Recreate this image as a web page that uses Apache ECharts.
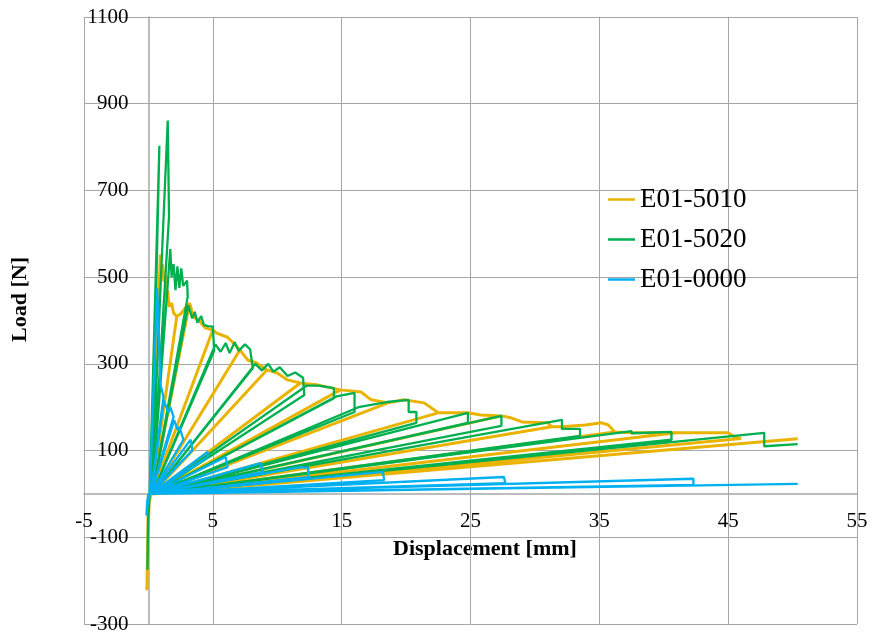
<!DOCTYPE html>
<html><head><meta charset="utf-8">
<script src="https://cdn.jsdelivr.net/npm/echarts@6/dist/echarts.min.js"></script>
<style>html,body{margin:0;padding:0;background:#fff}#c{width:871px;height:634px}</style>
</head><body><div id="c"></div>
<script>
// Series names and colours
const seriesNames = ['E01-5010', 'E01-5020', 'E01-0000'];
const seriesColors = ['#EAB300', '#00B050', '#00B0F0'];

// Axis ranges (ticks: -5,5,...,55 and -300,-100,...,1100)
const xRange = [-5, 55, 10];
const yRange = [-300, 1100, 200];

// E01-5010 : [displacement mm, load N]
const e015010 = [
  [0,0],[-0.03,-60],[-0.08,-160],[-0.12,-222],[-0.05,-120],[0.05,-20],[0.2,0],
  [0.93,552],[1.0,505],[1.1,530],[1.2,490],[1.3,505],[1.35,455],[1.5,470],[1.6,432],[1.8,440],[1.95,418],[2.2,409],[0.25,0],
  [2.2,409],[2.5,415],[2.9,430],[3.2,440],[0.25,0],
  [3.2,440],[3.5,408],[3.9,401],[4.4,383],[5.0,378],[0.25,0],
  [5.0,378],[5.3,371],[6.1,362],[6.5,351],[7.1,332],[0.25,0],
  [7.1,332],[7.7,309],[8.4,302],[9.2,286],[0.3,0],
  [9.2,286],[10.0,279],[10.8,263],[11.8,256],[0.3,0],
  [11.8,256],[13.2,251],[14.9,240],[0.3,0],
  [14.9,240],[16.5,235],[17.3,217],[18.6,210],[0.3,0],
  [18.6,210],[19.8,217],[21.4,210],[22.5,187],[0.3,0],
  [22.5,187],[24.8,187],[25.8,182],[27.4,180],[0.3,0],
  [27.4,180],[28.2,175],[29.0,166],[31.0,164],[31.3,155],[0.3,0],
  [31.3,155],[32.1,155],[33.9,159],[35.2,164],[35.7,159],[36.2,143],[0.3,0],
  [36.2,143],[37.5,141],[40.6,141],[41.0,141],[0.3,0],
  [41.0,141],[45.0,141],[45.5,131],[46.0,128],[0.3,0],
  [50.4,127]
];

// E01-5020
const e015020 = [
  [0,0],[-0.03,-80],[-0.08,-175],[-0.02,-60],[0.1,0],
  [0.85,803],[0.25,0],
  [1.5,861],[1.6,640],[0.3,0],
  [1.7,565],[1.8,500],[1.95,530],[2.1,470],[2.25,525],[2.4,475],[2.55,520],[2.7,480],[3.0,492],[3.05,455],[0.3,0],
  [3.1,435],[3.4,405],[3.6,420],[3.8,395],[4.1,410],[4.3,390],[4.6,387],[5.0,386],[5.1,330],[0.3,0],
  [5.2,345],[5.6,328],[6.0,348],[6.3,325],[6.7,350],[7.0,330],[7.5,345],[7.9,333],[8.1,290],[0.3,0],
  [8.3,300],[8.8,285],[9.3,300],[9.7,282],[10.2,292],[10.8,272],[11.4,280],[12.0,268],[12.1,228],[0.3,0],
  [12.3,250],[13.2,250],[14.4,244],[14.4,221],[0.3,0],
  [14.6,225],[16.0,233],[16.0,189],[0.3,0],
  [16.3,200],[18.5,212],[20.2,217],[20.2,189],[20.8,189],[20.8,164],[0.3,0],
  [24.8,187],[24.8,164],[0.3,0],
  [27.4,180],[27.4,157],[0.3,0],
  [32.1,171],[32.1,150],[33.5,150],[33.5,134],[0.3,0],
  [37.5,145],[37.5,140],[40.6,143],[40.6,125],[0.3,0],
  [47.8,141],[47.8,110],[50.4,115]
];

// E01-0000
const e010000 = [
  [0,0],[-0.1,-20],[-0.15,-50],[-0.1,-30],[0.1,0],
  [0.68,475],[0.8,380],[0.93,256],[1.0,245],[1.17,224],[0.2,0],
  [1.2,215],[1.56,187],[1.7,200],[1.95,178],[0.2,0],
  [2.0,170],[2.26,148],[2.4,155],[2.72,125],[0.2,0],
  [3.27,125],[3.42,101],[0.2,0],
  [4.59,97],[4.6,85],[0.2,0],
  [5.99,85],[6.15,62],[0.2,0],
  [8.7,71],[8.9,51],[0.2,0],
  [11.8,62],[12.4,60],[12.4,39],[0.2,0],
  [18.2,51],[18.3,32],[0.2,0],
  [27.6,39],[27.7,25],[0.2,0],
  [42.3,35],[42.3,21],[0.2,0],
  [50.4,23]
];

const seriesData = [e015010, e015020, e010000];
const lineWidths = [3, 2.3, 2.3];

const FONT = '"Liberation Serif", "Times New Roman", serif';
const W = 871, H = 634;
const G = {left: 84, right: 14, top: 17, bottom: 10};
// Pixel offsets that place the axes (line + labels) on the zero lines
const plotW = W - G.left - G.right, plotH = H - G.top - G.bottom;
const yAxisOffset = -((0 - xRange[0]) / (xRange[1] - xRange[0])) * plotW;
const xAxisOffset = -((0 - yRange[0]) / (yRange[1] - yRange[0])) * plotH;

const chart = echarts.init(document.getElementById('c'), null, {renderer: 'canvas'});
chart.setOption({
  animation: false,
  backgroundColor: '#fff',
  grid: Object.assign({containLabel: false, outerBoundsMode: 'none'}, G),
  xAxis: {
    type: 'value', min: xRange[0], max: xRange[1], interval: xRange[2],
    position: 'bottom', offset: xAxisOffset,
    axisLine: {show: true, onZero: false, lineStyle: {color: '#A6A6A6', width: 1.5}},
    axisTick: {show: false},
    axisLabel: {color: '#000', fontFamily: FONT, fontSize: 21, margin: 17, showMinLabel: true, showMaxLabel: true,
      formatter: v => String(v)},
    splitLine: {show: true, lineStyle: {color: '#A6A6A6', width: 1}}
  },
  yAxis: {
    type: 'value', min: yRange[0], max: yRange[1], interval: yRange[2],
    position: 'left', offset: yAxisOffset,
    axisLine: {show: true, onZero: false, lineStyle: {color: '#A6A6A6', width: 1.5}},
    axisTick: {show: false},
    axisLabel: {color: '#000', fontFamily: FONT, fontSize: 21, margin: 20, showMinLabel: true, showMaxLabel: true,
      formatter: v => String(v)},
    splitLine: {show: true, lineStyle: {color: '#A6A6A6', width: 1}}
  },
  legend: {
    orient: 'vertical', left: 603, top: 181, itemGap: 13,
    icon: 'rect', itemWidth: 27, itemHeight: 2.5,
    textStyle: {color: '#000', fontFamily: FONT, fontSize: 27},
    data: seriesNames
  },
  graphic: [
    {type: 'text', left: 393, top: 538, style: {text: 'Displacement [mm]', font: 'bold 22px ' + FONT, fill: '#000'}},
    {type: 'text', left: 9, top: 257, rotation: Math.PI / 2, style: {text: 'Load [N]', font: 'bold 22px ' + FONT, fill: '#000'}}
  ],
  series: seriesNames.map((n, i) => ({
    name: n, type: 'line', data: seriesData[i],
    showSymbol: false, symbol: 'none',
    lineStyle: {color: seriesColors[i], width: lineWidths[i]},
    itemStyle: {color: seriesColors[i]},
    z: 2 + i
  }))
});
</script>
</body></html>
